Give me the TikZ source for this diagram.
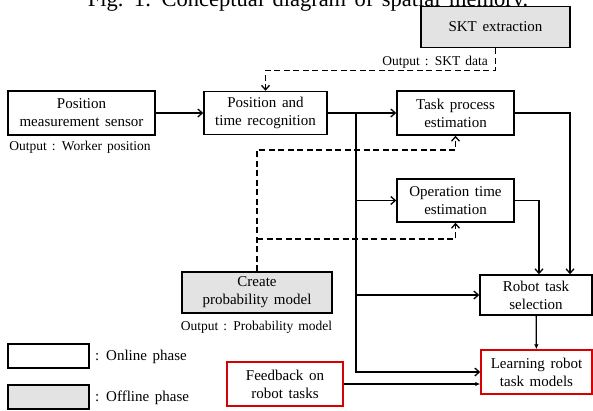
\documentclass[tikz,border=0pt]{standalone}
\usepackage{fontspec}
\setmainfont{Liberation Serif}[WordSpace=1.5]
\usetikzlibrary{positioning,arrows.meta}

\begin{document}
\begin{tikzpicture}[x=1pt,y=-1pt,
  online/.style={draw,line width=1.5pt,align=center,inner sep=0pt,font=\fontsize{15}{18}\selectfont},
  offline/.style={online,fill=gray!22},
  fbbox/.style={online,draw=red!85!black},
  note/.style={inner sep=0pt,font=\fontsize{13.5}{16}\selectfont},
  link/.style={line width=1.3pt,-{Straight Barb[length=4.5pt,width=8pt]}},
  flink/.style={line width=1.3pt,-{Latex[length=5pt,width=4.5pt]}},
  dlink/.style={link,dash pattern=on 6pt off 3.5pt}]
\useasboundingbox (0,0) rectangle (593,410);
\node[anchor=base,font=\fontsize{22.5}{27}\selectfont] (fig) at (308,6) {Fig. 1: Conceptual diagram of spatial memory.};
% boxes of the online and offline phase
\node[offline,minimum width=149pt,minimum height=41pt] (skt) at (495.5,27) {SKT extraction};
\node[online,minimum width=147pt,minimum height=44pt] (sensor) at (81.5,113) {Position\\measurement sensor};
\node[online,minimum width=123pt,minimum height=43pt] (postime) at (265.5,113) {Position and\\time recognition};
\node[online,minimum width=117pt,minimum height=44pt] (taskproc) at (455.5,113) {Task process\\estimation};
\node[online,minimum width=117pt,minimum height=43pt] (optime) at (455.5,200.5) {Operation time\\estimation};
\node[offline,minimum width=150pt,minimum height=41pt] (prob) at (257,292.5) {Create\\probability model};
\node[online,minimum width=112pt,minimum height=40pt] (robot) at (536,295) {Robot task\\selection};
\node[fbbox,minimum width=111pt,minimum height=44pt] (learn) at (536.5,372) {Learning robot\\task models};
\node[fbbox,minimum width=116pt,minimum height=44pt] (feedback) at (285,384) {Feedback on\\robot tasks};
% outputs
\node[note,anchor=east] (sktout) at (488,62) {Output : SKT data};
\node[note] (wpos) at (80,147) {Output : Worker position};
\node[note] (probout) at (256.5,327) {Output : Probability model};
% legend
\node[online,minimum width=81pt,minimum height=24pt] (onkey) at (48.5,356) {};
\node[offline,minimum width=81pt,minimum height=24pt] (offkey) at (48.5,397) {};
\node[anchor=west,font=\fontsize{15}{18}\selectfont,inner sep=0pt] (ontext) at (95,357) {: Online phase};
\node[anchor=west,font=\fontsize{15}{18}\selectfont,inner sep=0pt] (offtext) at (95,398) {: Offline phase};
% online flow
\coordinate (split) at (356,113);
\coordinate (tpline) at (0,150);
\coordinate (otline) at (0,239);
\draw[link] (sensor) -- (postime);
\draw[link] (postime) -- (taskproc);
\draw[link] (split) |- (learn.west);
\foreach \n in {optime,robot} {
  \draw[link] (split |- \n.west) -- (\n.west);
}
\draw[link] (taskproc.east) -| ([xshift=34pt]robot.north);
\draw[link] (optime.east) -| ([xshift=3pt]robot.north);
\draw[flink] (robot) -- (learn);
\draw[flink] (feedback.east) -- (feedback.east -| learn.west);
% offline inputs
\draw[dlink] (skt.south) -- ++(0,22) -| (postime.north);
\draw[dlink] (prob.north) -- (prob.north |- tpline) -| (taskproc.south);
\draw[dlink] (prob.north |- otline) -| (optime.south);
\end{tikzpicture}
\end{document}
